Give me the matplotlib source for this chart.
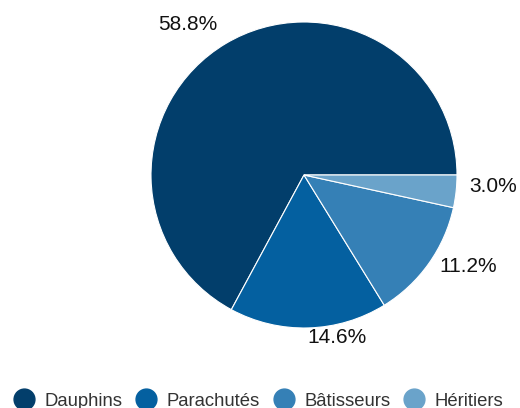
import matplotlib.pyplot as plt
import numpy as np
from matplotlib.lines import Line2D

# data
categories = ['Dauphins', 'Parachutés', 'Bâtisseurs', 'Héritiers']
values = [58.8, 14.6, 11.2, 3.0]
colors = ['#023e6b', '#0460a0', '#3580b6', '#6aa3ca']

# label anchor offsets (in pie radii), label baseline
label_xy = [(-0.761, 0.948), (0.216, -1.098), (1.072, -0.634), (1.239, -0.111)]

plt.rcParams['font.family'] = ['Liberation Sans', 'DejaVu Sans']

W, H = 520, 408
fig = plt.figure(figsize=(W/100., H/100.), dpi=100)
cx, cy, R = 304, 175, 153
ax = fig.add_axes([(cx-R)/W, 1-(cy+R)/H, 2*R/W, 2*R/H])

wedges, _ = ax.pie(values, colors=colors, startangle=0, counterclock=True,
                   wedgeprops=dict(edgecolor='white', linewidth=0.8))
ax.set_xlim(-1, 1)
ax.set_ylim(-1, 1)
ax.set_aspect('equal')
ax.axis('off')

for v, (lx, ly) in zip(values, label_xy):
    ax.text(lx, ly, '%.1f%%' % v, ha='center', va='baseline', fontsize=15,
            color='#111111', clip_on=False)

handles = [Line2D([], [], linestyle='none', marker='o', markersize=15,
                  markerfacecolor=c, markeredgecolor=c) for c in colors]
fig.legend(handles, categories, loc='center', bbox_to_anchor=(0.497, 1-401./H),
           ncol=4, frameon=False, fontsize=13.3, handlelength=1.1,
           handletextpad=0.55, columnspacing=0.75, borderpad=0,
           labelcolor='#333333')

fig.savefig('out.png', dpi=100)
